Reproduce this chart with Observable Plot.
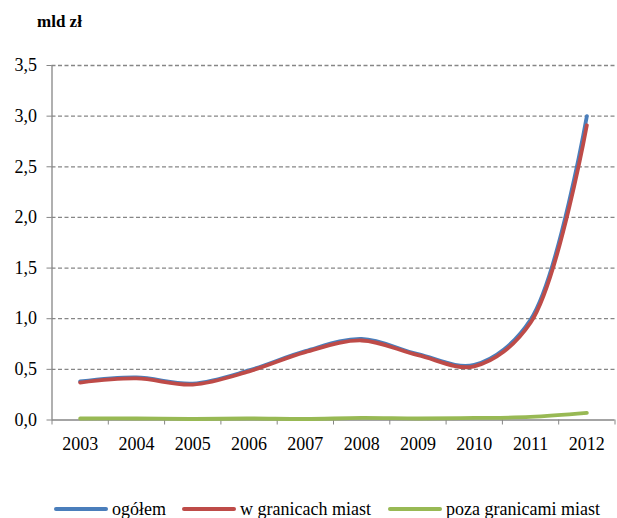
<!DOCTYPE html>
<html>
<head>
<meta charset="utf-8">
<script src="https://cdn.jsdelivr.net/npm/d3@7"></script>
<script src="https://cdn.jsdelivr.net/npm/@observablehq/plot@0.6"></script>
<style>
  html, body { margin: 0; padding: 0; background: #fff; }
  #wrap { position: relative; width: 617px; height: 518px; overflow: hidden; font-family: 'Liberation Serif', 'DejaVu Serif', 'Times New Roman', serif; }
  #title { position: absolute; left: 37px; top: 12px; font-size: 17px; font-weight: bold; line-height: 20px; }
  #legend { position: absolute; left: 0; top: 498px; width: 617px; height: 22px; font-size: 18px; }
  .item { position: absolute; top: 0; display: flex; align-items: center; height: 22px; }
  .sw { width: 54px; height: 4px; border-radius: 2px; margin-right: 4px; }
  #chart { position: absolute; left: 0; top: 0; }
  #chart svg text { font-family: 'Liberation Serif', 'DejaVu Serif', 'Times New Roman', serif; }
</style>
</head>
<body>
<div id="wrap">
  <div id="chart"></div>
  <div id="title">mld zł</div>
  <div id="legend"></div>
</div>
<script>
const years = [2003, 2004, 2005, 2006, 2007, 2008, 2009, 2010, 2011, 2012];
const ogolem = [0.38, 0.42, 0.36, 0.49, 0.68, 0.80, 0.65, 0.545, 0.99, 3.00];
const wGranicachMiast = [0.37, 0.41, 0.35, 0.48, 0.67, 0.785, 0.64, 0.53, 0.96, 2.91];
const pozaGranicamiMiast = [0.015, 0.015, 0.01, 0.015, 0.01, 0.02, 0.015, 0.02, 0.03, 0.07];
const yTicks = [0, 0.5, 1.0, 1.5, 2.0, 2.5, 3.0, 3.5];
const seriesNames = ["ogółem", "w granicach miast", "poza granicami miast"];
const seriesColors = ["#4a7ebb", "#be4b48", "#98b954"];
const seriesValues = [ogolem, wGranicachMiast, pozaGranicamiMiast];

const rows = [];
seriesNames.forEach((name, i) => {
  years.forEach((yr, j) => rows.push({series: name, year: yr, value: seriesValues[i][j]}));
});
const boundaries = [years[0] - 0.5, ...years.map(y => y + 0.5)];
const gray = "#868686";
const fmt = d => d.toFixed(1).replace(".", ",");
const serif = "'Liberation Serif', 'DejaVu Serif', 'Times New Roman', serif";

const chart = Plot.plot({
  width: 617,
  height: 518,
  marginTop: 65,
  marginBottom: 98.5,
  marginLeft: 51.5,
  marginRight: 2.5,
  style: {fontFamily: serif, fontSize: "18px", color: "#000", background: "transparent"},
  x: {type: "linear", domain: [boundaries[0], boundaries[boundaries.length - 1]]},
  y: {domain: [0, 3.5]},
  color: {domain: seriesNames, range: seriesColors},
  marks: [
    Plot.gridY(yTicks.filter(d => d > 0), {stroke: gray, strokeOpacity: 1, strokeWidth: 1.3, strokeDasharray: "4,2.5"}),
    Plot.ruleY([0], {stroke: gray, strokeWidth: 1.3}),
    Plot.ruleX([boundaries[0]], {y1: 0, y2: 3.5, stroke: gray, strokeWidth: 1.3}),
    Plot.axisY(yTicks, {tickSize: 5, tickPadding: 10, tickFormat: fmt, stroke: gray, fill: "#000", label: null, fontSize: 18}),
    Plot.axisX(boundaries, {tickSize: 5, tickFormat: () => "", stroke: gray, label: null}),
    Plot.axisX(years, {tickSize: 0, tickPadding: 17, tickFormat: d => String(d), fill: "#000", label: null, fontSize: 18}),
    Plot.line(rows, {x: "year", y: "value", z: "series", stroke: "series", strokeWidth: 3.8, curve: "catmull-rom", strokeLinecap: "round"})
  ]
});
document.getElementById("chart").appendChild(chart);

const legend = document.getElementById("legend");
const lefts = [54, 182, 388];
seriesNames.forEach((name, i) => {
  const it = document.createElement("div");
  it.className = "item";
  it.style.left = lefts[i] + "px";
  const sw = document.createElement("div");
  sw.className = "sw";
  sw.style.background = seriesColors[i];
  const tx = document.createElement("span");
  tx.textContent = name;
  it.appendChild(sw);
  it.appendChild(tx);
  legend.appendChild(it);
});
</script>
</body>
</html>
